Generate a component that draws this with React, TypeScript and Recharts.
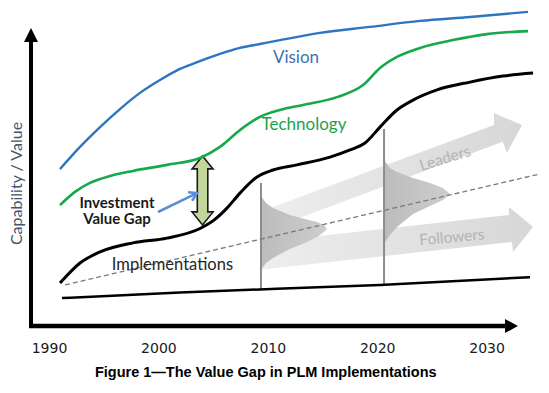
import React from 'react';
import { ComposedChart, Line, Area, XAxis, YAxis, ReferenceArea, ReferenceDot, Label } from 'recharts';

// ---------- data (x = year, y = capability / value, 0..105) ----------
const yearTicks = [1990, 2000, 2010, 2020, 2030];

const visionPoints: [number, number][] = [
  [1990.96, 52.3], [1992.79, 59.7], [1994.62, 66.3], [1996.44, 72.3], [1998.27, 77.7],
  [2000.1, 82.0], [2001.93, 85.7], [2003.76, 88.3], [2005.58, 90.7], [2007.41, 92.7],
  [2009.24, 94.0], [2011.07, 95.3], [2014.73, 97.7], [2019.3, 99.7], [2023.87, 101.7],
  [2028.44, 103.0], [2033.74, 104.7],
];

const technologyPoints: [number, number][] = [
  [1990.96, 40.3], [1992.33, 44.7], [1993.7, 47.7], [1995.53, 50.0], [1997.63, 51.7],
  [2000.74, 53.7], [2003.76, 56.0], [2005.58, 59.7], [2007.41, 65.3], [2009.24, 69.7],
  [2011.07, 72.0], [2013.17, 73.7], [2016.28, 76.3], [2018.66, 80.3], [2020.21, 86.0],
  [2021.76, 89.7], [2023.87, 92.7], [2026.88, 95.3], [2029.99, 97.3], [2033.74, 98.3],
];

const implementationPoints: [number, number][] = [
  [1990.96, 14.3], [1992.79, 21.0], [1994.62, 24.7], [1997.63, 27.7], [2000.74, 29.3],
  [2003.76, 32.5], [2005.0, 35.2], [2006.2, 39.2], [2007.41, 44.3], [2008.97, 49.7],
  [2010.43, 52.0], [2012.62, 53.7], [2015.64, 56.3], [2017.47, 58.7], [2018.84, 61.0],
  [2020.21, 66.3], [2021.76, 72.0], [2023.23, 75.3], [2025.42, 78.7], [2028.44, 81.3],
  [2031.45, 83.3], [2034.2, 84.3],
];

const baselinePoints: [number, number][] = [
  [1991.14, 9.3], [2001.93, 11.2], [2020.21, 13.7], [2033.92, 16.3],
];

const trendPoints: [number, number][] = [
  [1991.42, 13.7], [2034.84, 50.7],
];

// [year, low, high]
const dist2010: [number, number, number][] = [
  [2009.33, 18.7, 43.3], [2009.79, 21.0, 41.0], [2010.43, 22.7, 39.3], [2011.98, 25.7, 37.0],
  [2013.35, 27.7, 35.7], [2014.45, 29.7, 34.7], [2015.09, 31.3, 33.7], [2015.37, 32.3, 32.3],
];
const dist2020: [number, number, number][] = [
  [2020.58, 27.3, 55.3], [2021.12, 30.3, 52.7], [2021.76, 33.0, 51.3], [2023.23, 37.3, 49.3],
  [2024.78, 40.0, 47.7], [2025.97, 42.0, 46.0], [2026.61, 44.0, 44.0],
];

const leadersArrow: [number, number, number][] = [
  [2009.42, 31.3, 38.3], [2030.63, 60.3, 67.0], [2030.63, 60.3, 71.0],
  [2031.43, 61.4, 69.7], [2031.82, 57.7, 69.1], [2033.19, 67.0, 67.0],
];
const followersArrow: [number, number, number][] = [
  [2009.42, 18.8, 27.9], [2032.0, 27.9, 37.0], [2032.0, 27.9, 39.7],
  [2032.28, 28.0, 38.8], [2032.37, 24.7, 38.6], [2034.2, 33.0, 33.0],
];

const marker2010: [number, number][] = [[2009.33, 12.2], [2009.33, 47.7]];
const marker2020: [number, number][] = [[2020.58, 13.7], [2020.58, 65.7]];

const yAxisLine: [number, number][] = [[1988.31, 0], [1988.31, 94.7]];
const xAxisLine: [number, number][] = [[1988.13, 0], [2031.64, 0]];

const gapArrowX = [2003.03, 2004.95];
const gapArrowY = [33.7, 56.7];
const pointerX = [1999.92, 2003.48];
const pointerY = [38.0, 44.3];
const yHeadX = [1987.67, 1988.95];
const yHeadY = [94.7, 99.3];
const xHeadX = [2031.64, 2032.82];
const xHeadY = [-2.33, 2.33];

// ---------- helpers ----------
const toXY = (pts: [number, number][]) => pts.map(([x, y]) => ({ x, y }));
const toRange = (pts: [number, number, number][]) => pts.map(([x, lo, hi]) => ({ x, range: [lo, hi] }));

const UpTriangle = (p: any) => {
  const { x, y, width, height } = p;
  return <path d={`M${x},${y + height} L${x + width / 2},${y} L${x + width},${y + height} Z`} fill="#000" />;
};
const RightTriangle = (p: any) => {
  const { x, y, width, height } = p;
  return <path d={`M${x},${y} L${x + width},${y + height / 2} L${x},${y + height} Z`} fill="#000" />;
};
const DoubleArrow = (p: any) => {
  const { x, y, width, height } = p;
  const cx = x + width / 2;
  const head = 13;
  const s = width * 0.25;
  const d = `M${cx},${y} L${x + width},${y + head} L${cx + s},${y + head} L${cx + s},${y + height - head} L${x + width},${y + height - head} L${cx},${y + height} L${x},${y + height - head} L${cx - s},${y + height - head} L${cx - s},${y + head} L${x},${y + head} Z`;
  return <path d={d} fill="#c4d79b" stroke="#1a1a1a" strokeWidth={1.6} />;
};
const PointerArrow = (p: any) => {
  const { x, y, width, height } = p;
  const x1 = x, y1 = y + height, x2 = x + width, y2 = y;
  const ang = Math.atan2(y2 - y1, x2 - x1);
  const L = 9, spread = 0.55;
  const ax = x2 - L * Math.cos(ang - spread), ay = y2 - L * Math.sin(ang - spread);
  const bx = x2 - L * Math.cos(ang + spread), by = y2 - L * Math.sin(ang + spread);
  return (
    <g>
      <line x1={x1} y1={y1} x2={x2 - 1} y2={y2 + 0.5} stroke="#5b8fd9" strokeWidth={2.6} />
      <path d={`M${ax},${ay} L${x2},${y2} L${bx},${by}`} fill="none" stroke="#5b8fd9" strokeWidth={2.6} strokeLinejoin="miter" />
    </g>
  );
};

const textFont = 'Lato, "Open Sans", sans-serif';

const TextAt = ({ x, y, text, fill, size, bold, angle }: any) => (
  <ReferenceDot x={x} y={y} r={0} fill="none" stroke="none" ifOverflow="visible">
    <Label
      value={text}
      position="center"
      fill={fill}
      fontSize={size}
      fontFamily={textFont}
      fontWeight={bold ? 'bold' : 'normal'}
      angle={angle || 0}
    />
  </ReferenceDot>
);

export default function App() {
  return (
    <div style={{ position: 'absolute', left: 0, top: 0, width: 549, height: 393, background: '#fff' }}>
      <ComposedChart width={549} height={393} margin={{ top: 11, right: 7.2, bottom: 0, left: 5.74 }}>
        <defs>
          <linearGradient id="bandFade" x1="0" y1="0" x2="1" y2="0">
            <stop offset="0" stopColor="#eeeeee" />
            <stop offset="1" stopColor="#d7d7d7" />
          </linearGradient>
          <linearGradient id="distFade" x1="0" y1="0" x2="1" y2="0">
            <stop offset="0" stopColor="#bcbcbc" />
            <stop offset="1" stopColor="#cdcdcd" />
          </linearGradient>
        </defs>
        <XAxis
          dataKey="x"
          type="number"
          domain={[1986, 2035]}
          ticks={yearTicks}
          axisLine={false}
          tickLine={false}
          tickMargin={11}
          height={67}
          tick={{ fontFamily: 'DejaVu Sans', fontSize: 14, fill: '#1a1a1a' }}
        >
          <Label
            value="Figure 1—The Value Gap in PLM Implementations"
            position="insideBottom"
            offset={16}
            dx={-8}
            fontFamily="Liberation Sans, Arial, sans-serif"
            fontWeight="bold"
            fontSize={14.5}
            fill="#000"
          />
        </XAxis>
        <YAxis hide type="number" domain={[0, 105]} />

        <Area data={toRange(leadersArrow)} dataKey="range" type="linear" stroke="none" fill="url(#bandFade)" fillOpacity={1} dot={false} activeDot={false} isAnimationActive={false} />
        <Area data={toRange(followersArrow)} dataKey="range" type="linear" stroke="none" fill="url(#bandFade)" fillOpacity={1} dot={false} activeDot={false} isAnimationActive={false} />
        <Area data={toRange(dist2010)} dataKey="range" type="linear" stroke="none" fill="url(#distFade)" fillOpacity={1} dot={false} activeDot={false} isAnimationActive={false} />
        <Area data={toRange(dist2020)} dataKey="range" type="linear" stroke="none" fill="url(#distFade)" fillOpacity={1} dot={false} activeDot={false} isAnimationActive={false} />

        <Line data={toXY(marker2010)} dataKey="y" type="linear" stroke="#8c8c8c" strokeWidth={2} dot={false} activeDot={false} isAnimationActive={false} />
        <Line data={toXY(marker2020)} dataKey="y" type="linear" stroke="#8c8c8c" strokeWidth={2} dot={false} activeDot={false} isAnimationActive={false} />
        <Line data={toXY(trendPoints)} dataKey="y" type="linear" stroke="#7a7a7a" strokeWidth={1.3} strokeDasharray="5 3" dot={false} activeDot={false} isAnimationActive={false} />

        <Line data={toXY(baselinePoints)} dataKey="y" type="monotone" stroke="#000" strokeWidth={2.5} dot={false} activeDot={false} isAnimationActive={false} />
        <Line data={toXY(visionPoints)} dataKey="y" type="monotone" stroke="#2e74c0" strokeWidth={2.4} dot={false} activeDot={false} isAnimationActive={false} />
        <Line data={toXY(technologyPoints)} dataKey="y" type="monotone" stroke="#17a84b" strokeWidth={2.6} dot={false} activeDot={false} isAnimationActive={false} />
        <Line data={toXY(implementationPoints)} dataKey="y" type="monotone" stroke="#000" strokeWidth={3} dot={false} activeDot={false} isAnimationActive={false} />

        <Line data={toXY(yAxisLine)} dataKey="y" type="linear" stroke="#000" strokeWidth={4} strokeLinecap="square" dot={false} activeDot={false} isAnimationActive={false} />
        <Line data={toXY(xAxisLine)} dataKey="y" type="linear" stroke="#000" strokeWidth={4.5} dot={false} activeDot={false} isAnimationActive={false} />

        <ReferenceArea x1={yHeadX[0]} x2={yHeadX[1]} y1={yHeadY[0]} y2={yHeadY[1]} ifOverflow="visible" shape={<UpTriangle />} />
        <ReferenceArea x1={xHeadX[0]} x2={xHeadX[1]} y1={xHeadY[0]} y2={xHeadY[1]} ifOverflow="visible" shape={<RightTriangle />} />
        <ReferenceArea x1={gapArrowX[0]} x2={gapArrowX[1]} y1={gapArrowY[0]} y2={gapArrowY[1]} ifOverflow="visible" shape={<DoubleArrow />} />
        <ReferenceArea x1={pointerX[0]} x2={pointerX[1]} y1={pointerY[0]} y2={pointerY[1]} ifOverflow="visible" shape={<PointerArrow />} />

        {TextAt({ x: 1986.98, y: 47.5, text: 'Capability / Value', fill: '#44546a', size: 16, angle: -90 })}
        {TextAt({ x: 2012.53, y: 89.7, text: 'Vision', fill: '#3f72af', size: 17 })}
        {TextAt({ x: 2013.26, y: 67.5, text: 'Technology', fill: '#1aa34a', size: 17 })}
        {TextAt({ x: 2001.24, y: 20.7, text: 'Implementations', fill: '#262626', size: 16.5 })}
        {TextAt({ x: 1996.17, y: 41.2, text: 'Investment', fill: '#1a1a1a', size: 15, bold: true })}
        {TextAt({ x: 1996.17, y: 35.8, text: 'Value Gap', fill: '#1a1a1a', size: 15, bold: true })}
        {TextAt({ x: 2026.15, y: 56.0, text: 'Leaders', fill: '#b4b4b4', size: 15.5, angle: -17 })}
        {TextAt({ x: 2026.79, y: 29.7, text: 'Followers', fill: '#b4b4b4', size: 15.5, angle: -5 })}
      </ComposedChart>
    </div>
  );
}
